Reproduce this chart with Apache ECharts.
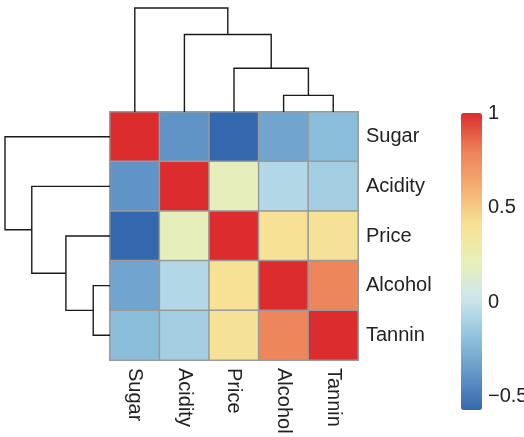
<!DOCTYPE html>
<html>
<head>
<meta charset="utf-8">
<script src="https://cdn.jsdelivr.net/npm/echarts@6/dist/echarts.min.js"></script>
<style>
  html, body { margin: 0; padding: 0; background: #fff; }
  #main { width: 524px; height: 437px; }
</style>
</head>
<body>
<div id="main"></div>
<script>
var labels = ['Sugar', 'Acidity', 'Price', 'Alcohol', 'Tannin'];

// correlation matrix, rows/cols in the clustered order above
var corr = [
  [ 1.00, -0.39, -0.57, -0.32, -0.21],
  [-0.39,  1.00,  0.20, -0.07, -0.12],
  [-0.57,  0.20,  1.00,  0.41,  0.40],
  [-0.32, -0.07,  0.41,  1.00,  0.78],
  [-0.21, -0.12,  0.40,  0.78,  1.00]
];

// linkage: [childA, childB, height]; ids >= 5 are earlier merges
var linkage = [
  [3, 4, 0.16],
  [2, 5, 0.42],
  [1, 6, 0.745],
  [0, 7, 1.00]
];

var colorTicks = [-0.5, 0, 0.5, 1];
var vMin = -0.57, vMax = 1;

var heatData = [];
for (var r = 0; r < corr.length; r++) {
  for (var c = 0; c < corr[r].length; c++) {
    heatData.push([c, r, corr[r][c]]);
  }
}

// leaf positions then cluster positions
var pos = [], hgt = [];
for (var i = 0; i < labels.length; i++) { pos.push(i + 0.5); hgt.push(0); }
var links = [];
linkage.forEach(function (l) {
  var a = l[0], b = l[1], h = l[2];
  links.push([pos[a], hgt[a], pos[b], hgt[b], h]);
  pos.push((pos[a] + pos[b]) / 2);
  hgt.push(h);
});

var lineStyle = { stroke: '#1a1a1a', lineWidth: 1.4, fill: null };

function topDendro(params, api) {
  var p1 = api.value(0), h1 = api.value(1), p2 = api.value(2), h2 = api.value(3), h = api.value(4);
  return {
    type: 'polyline',
    shape: { points: [api.coord([p1, h1]), api.coord([p1, h]), api.coord([p2, h]), api.coord([p2, h2])] },
    style: lineStyle
  };
}
function leftDendro(params, api) {
  var p1 = api.value(0), h1 = api.value(1), p2 = api.value(2), h2 = api.value(3), h = api.value(4);
  return {
    type: 'polyline',
    shape: { points: [api.coord([h1, p1]), api.coord([h, p1]), api.coord([h, p2]), api.coord([h2, p2])] },
    style: lineStyle
  };
}

var font = "'Liberation Sans', Arial, sans-serif";
var chart = echarts.init(document.getElementById('main'));
var hidden = { show: false };

var option = {
  backgroundColor: '#fff',
  animation: false,
  textStyle: { fontFamily: font },
  grid: [
    { left: 110, top: 112, width: 248, height: 248, outerBoundsMode: 'none' },  // heatmap
    { left: 110, top: 8, width: 248, height: 104, outerBoundsMode: 'none' },    // top dendrogram
    { left: 5, top: 112, width: 105, height: 248, outerBoundsMode: 'none' },    // left dendrogram
    { left: 461, top: 113, width: 21, height: 297, outerBoundsMode: 'none' }    // colorbar axis
  ],
  xAxis: [
    {
      type: 'category', gridIndex: 0, data: labels, position: 'bottom',
      axisLine: hidden, axisTick: hidden, splitLine: hidden,
      axisLabel: { rotate: -90, fontSize: 20, color: '#222', margin: 8, fontFamily: font }
    },
    { type: 'value', gridIndex: 1, min: 0, max: 5, show: false },
    { type: 'value', gridIndex: 2, min: 0, max: 1, inverse: true, show: false },
    { type: 'value', gridIndex: 3, min: 0, max: 1, show: false }
  ],
  yAxis: [
    {
      type: 'category', gridIndex: 0, data: labels, inverse: true, position: 'right',
      axisLine: hidden, axisTick: hidden, splitLine: hidden,
      axisLabel: { fontSize: 20, color: '#222', margin: 8, fontFamily: font }
    },
    { type: 'value', gridIndex: 1, min: 0, max: 1, show: false },
    { type: 'value', gridIndex: 2, min: 0, max: 5, inverse: true, show: false },
    {
      type: 'value', gridIndex: 3, min: vMin, max: vMax, position: 'right',
      axisLine: hidden, axisTick: hidden, splitLine: hidden,
      axisLabel: {
        customValues: colorTicks, fontSize: 20, color: '#222', margin: 6, fontFamily: font,
        formatter: function (v) { return String(v).replace('-', '\u2212'); }
      }
    }
  ],
  visualMap: {
    type: 'continuous',
    min: vMin, max: vMax,
    calculable: false,
    hoverLink: false,
    seriesIndex: 0,
    orient: 'vertical',
    left: 461, top: 113,
    padding: 0,
    itemWidth: 21, itemHeight: 297,
    text: null,
    showLabel: false,
    inRange: {
      color: ['#3468ae', '#6498c8', '#92c4de', '#cde6ec', '#e8f0b8',
              '#f7e194', '#f4ae72', '#ec8058', '#dd2c2e']
    }
  },
  series: [
    {
      type: 'heatmap', xAxisIndex: 0, yAxisIndex: 0,
      data: heatData,
      itemStyle: { borderColor: '#9a9a9a', borderWidth: 1.5 },
      emphasis: { disabled: true }
    },
    {
      type: 'custom', xAxisIndex: 1, yAxisIndex: 1,
      renderItem: topDendro, data: links, silent: true
    },
    {
      type: 'custom', xAxisIndex: 2, yAxisIndex: 2,
      renderItem: leftDendro, data: links, silent: true
    }
  ]
};

chart.setOption(option);
window.addEventListener('resize', function () { chart.resize(); });
</script>
</body>
</html>
